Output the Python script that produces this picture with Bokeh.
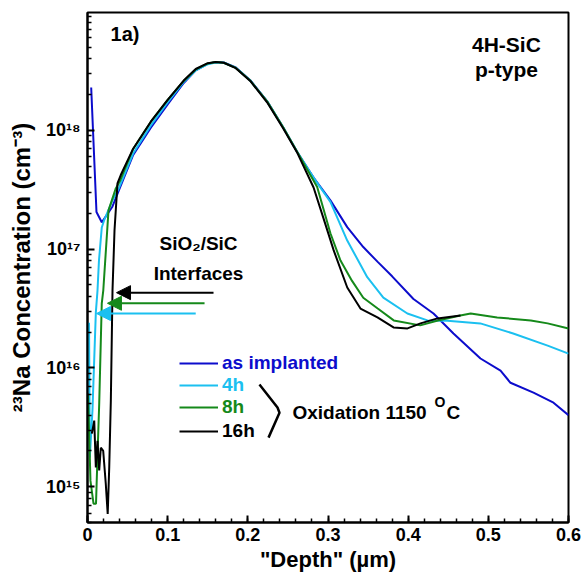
from bokeh.plotting import figure
from bokeh.models import (FixedTicker, Label, Arrow, NormalHead, Legend, LegendItem, Range1d)
from bokeh.embed import file_html
from bokeh.resources import INLINE

# ---------------- data ----------------
depth_implanted = [0.0046, 0.0112, 0.0178, 0.0308, 0.039, 0.057, 0.079, 0.100, 0.120, 0.135, 0.150,
                   0.160, 0.170, 0.185, 0.203, 0.224, 0.244, 0.262, 0.282, 0.303, 0.324, 0.344,
                   0.362, 0.380, 0.4066, 0.4316, 0.4565, 0.4902, 0.5152, 0.5276, 0.5563, 0.5813, 0.600]
conc_implanted = [2.29e18, 2.05e17, 1.68e17, 2.26e17, 3.1e17, 6.2e17, 1.05e18, 1.65e18, 2.5e18, 3.2e18, 3.62e18,
                  3.75e18, 3.72e18, 3.38e18, 2.64e18, 1.76e18, 1.06e18, 6.5e17, 4.0e17, 2.57e17, 1.53e17, 1.04e17,
                  7.8e16, 5.9e16, 3.8e16, 2.87e16, 1.95e16, 1.2e16, 9.5e15, 7.5e15, 6.2e15, 5.1e15, 4.0e15]

depth_4h = [0.0019, 0.0029, 0.0062, 0.0104, 0.0125, 0.0143, 0.0178, 0.0208, 0.0312, 0.0395, 0.057, 0.079,
            0.100, 0.120, 0.135, 0.150, 0.160, 0.170, 0.185, 0.203, 0.224, 0.244, 0.262, 0.282, 0.303,
            0.324, 0.349, 0.369, 0.399, 0.424, 0.449, 0.490, 0.531, 0.574, 0.600]
conc_4h = [2.4e16, 1.76e15, 4.4e15, 2.93e16, 4.5e16, 8.0e16, 1.52e17, 1.75e17, 2.57e17, 3.3e17, 6.4e17, 1.1e18,
           1.72e18, 2.55e18, 3.2e18, 3.6e18, 3.72e18, 3.7e18, 3.36e18, 2.62e18, 1.75e18, 1.06e18, 6.5e17, 4.0e17, 2.5e17,
           1.18e17, 5.8e16, 3.9e16, 2.87e16, 2.51e16, 2.5e16, 2.37e16, 1.95e16, 1.54e16, 1.32e16]

depth_8h = [0.0006, 0.0037, 0.0075, 0.0106, 0.0128, 0.0146, 0.0178, 0.0197, 0.0262, 0.0353, 0.041, 0.057,
            0.079, 0.100, 0.120, 0.135, 0.150, 0.160, 0.170, 0.185, 0.203, 0.224, 0.244, 0.262, 0.2865,
            0.303, 0.3156, 0.330, 0.344, 0.362, 0.382, 0.415, 0.437, 0.465, 0.478, 0.511, 0.553, 0.574, 0.600]
conc_8h = [6.1e15, 1.12e15, 7.2e14, 7.2e14, 2.13e15, 5.0e15, 3.5e16, 4.5e16, 2.12e17, 3.24e17, 3.8e17, 7.0e17,
           1.18e18, 1.8e18, 2.6e18, 3.25e18, 3.65e18, 3.75e18, 3.7e18, 3.35e18, 2.62e18, 1.75e18, 1.06e18, 6.5e17, 3.33e17,
           1.36e17, 8.0e16, 5.4e16, 3.9e16, 3.16e16, 2.51e16, 2.28e16, 2.51e16, 2.76e16, 2.87e16, 2.66e16, 2.51e16, 2.37e16, 2.15e16]

depth_16h = [0.0054, 0.0084, 0.0104, 0.0125, 0.0146, 0.0166, 0.0196, 0.0228, 0.0252, 0.0271, 0.0291, 0.0312,
             0.0337, 0.0374, 0.0415, 0.057, 0.079, 0.100, 0.120, 0.135, 0.150, 0.160, 0.170, 0.185, 0.203,
             0.224, 0.244, 0.262, 0.282, 0.294, 0.307, 0.324, 0.3405, 0.3617, 0.3817, 0.3992, 0.4154, 0.4366, 0.4653]
conc_16h = [2.8e15, 3.6e15, 1.45e15, 2.44e15, 1.37e15, 2.13e15, 2.0e15, 1.06e15, 5.9e14, 1.45e15, 5.3e15, 4.5e16,
            1.44e17, 3.57e17, 4.2e17, 7.0e17, 1.18e18, 1.8e18, 2.62e18, 3.28e18, 3.67e18, 3.76e18, 3.7e18, 3.33e18, 2.6e18,
            1.72e18, 1.04e18, 6.4e17, 3.3e17, 1.85e17, 9.8e16, 4.75e16, 3.16e16, 2.66e16, 2.19e16, 2.15e16, 2.37e16, 2.61e16, 2.76e16]

series_labels = ["as implanted", "4h", "8h", "16h"]
series_colors = ["#0c0ccc", "#1bc0f0", "#15891a", "#000000"]

x_ticks = [0, 0.1, 0.2, 0.3, 0.4, 0.5, 0.6]
x_tick_labels = ["0", "0.1", "0.2", "0.3", "0.4", "0.5", "0.6"]
y_ticks = [1e15, 1e16, 1e17, 1e18]
y_tick_labels = ["10\u00b9\u2075", "10\u00b9\u2076", "10\u00b9\u2077", "10\u00b9\u2078"]

# interface arrows (tail x, head x, y) : 16h, 8h, 4h
arrow_x_tail = [0.1572, 0.146, 0.135]
arrow_x_head = [0.0362, 0.0249, 0.0112]
arrow_y = [4.3e16, 3.5e16, 2.87e16]
arrow_colors = ["#000000", "#15891a", "#1bc0f0"]

# brace next to the legend
brace_x = [0.2145, 0.2370, 0.2395, 0.2258]
brace_y = [7.24e15, 4.64e15, 4.2e15, 2.59e15]

FONT = "Liberation Sans"

p = figure(width=587, height=576, y_axis_type="log",
           x_range=Range1d(0, 0.6), y_range=Range1d(5e14, 9.8e18),
           output_backend="svg", toolbar_location=None,
           min_border_left=87, min_border_right=19, min_border_top=12, min_border_bottom=54)
p.grid.visible = False
p.background_fill_color = "white"
p.border_fill_color = "white"
p.outline_line_color = "black"
p.outline_line_width = 2

renderers = []
for xs, ys, col in zip([depth_implanted, depth_4h, depth_8h, depth_16h],
                       [conc_implanted, conc_4h, conc_8h, conc_16h], series_colors):
    renderers.append(p.line(xs, ys, line_color=col, line_width=2))

# axes
for ax in (p.xaxis[0], p.yaxis[0]):
    ax.axis_line_width = 2
    ax.major_tick_line_width = 2
    ax.minor_tick_line_width = 1.5
    ax.major_tick_in = 7
    ax.major_tick_out = 0
    ax.minor_tick_in = 4
    ax.minor_tick_out = 0
    ax.major_label_text_font = FONT
    ax.major_label_text_font_style = "bold"
    ax.major_label_text_font_size = "18px"
    ax.major_label_text_color = "black"
    ax.axis_label_text_font = FONT
    ax.axis_label_text_font_style = "bold"
    ax.axis_label_text_color = "black"

p.xaxis.ticker = FixedTicker(ticks=x_ticks,
                             minor_ticks=[i * 0.02 for i in range(31)])
p.xaxis.major_label_overrides = dict(zip(x_ticks, x_tick_labels))
p.xaxis.axis_label = "\"Depth\" (\u00b5m)"
p.xaxis.axis_label_text_font_size = "22px"
p.xaxis.major_label_standoff = 5
p.xaxis.axis_label_standoff = 3

y_minor = [m * 10 ** e for e in range(14, 19) for m in range(2, 10)]
p.yaxis.ticker = FixedTicker(ticks=y_ticks, minor_ticks=y_minor)
p.yaxis.major_label_overrides = dict(zip(y_ticks, y_tick_labels))
p.yaxis.axis_label = "\u00b2\u00b3Na Concentration (cm\u207b\u00b3)"
p.yaxis.axis_label_text_font_size = "24px"
p.yaxis.major_label_standoff = 7
p.yaxis.axis_label_standoff = 8

# legends (one per series so label colours match)
legend_offsets = [148, 126, 104, 80]
for r, lab, col, yo in zip(renderers, series_labels, series_colors, legend_offsets):
    lg = Legend(items=[LegendItem(label=lab, renderers=[r])], location=(92, yo),
                label_text_color=col, label_text_font=FONT, label_text_font_style="bold",
                label_text_font_size="19px", glyph_width=39, glyph_height=20, label_height=20,
                label_standoff=4, padding=0, margin=0, spacing=0,
                border_line_color=None, background_fill_alpha=0)
    p.add_layout(lg)

# brace and oxidation text
p.line(brace_x, brace_y, line_color="black", line_width=2.5)

def lbl(x, y, text, size="19px", align="left", baseline="middle", color="black"):
    p.add_layout(Label(x=x, y=y, text=text, text_font=FONT, text_font_style="bold",
                       text_font_size=size, text_align=align, text_baseline=baseline,
                       text_color=color))

lbl(0.2557, 4.2e15, "Oxidation 1150")
lbl(0.4328, 5.2e15, "O", size="14px")
lbl(0.4478, 4.2e15, "C")

# interface arrows
for xt, xh, yy, col in zip(arrow_x_tail, arrow_x_head, arrow_y, arrow_colors):
    p.add_layout(Arrow(x_start=xt, y_start=yy, x_end=xh, y_end=yy, line_color=col, line_width=2,
                       end=NormalHead(size=14, fill_color=col, line_color=col)))

lbl(0.1385, 1.12e17, "SiO\u2082/SiC", align="center")
lbl(0.1385, 6.2e16, "Interfaces", align="center")
lbl(0.0287, 6.4e18, "1a)", size="20px")
lbl(0.5226, 5.3e18, "4H-SiC", size="21px", align="center")
lbl(0.5226, 3.25e18, "p-type", size="21px", align="center")

open("out.html", "w").write(file_html(p, INLINE))
